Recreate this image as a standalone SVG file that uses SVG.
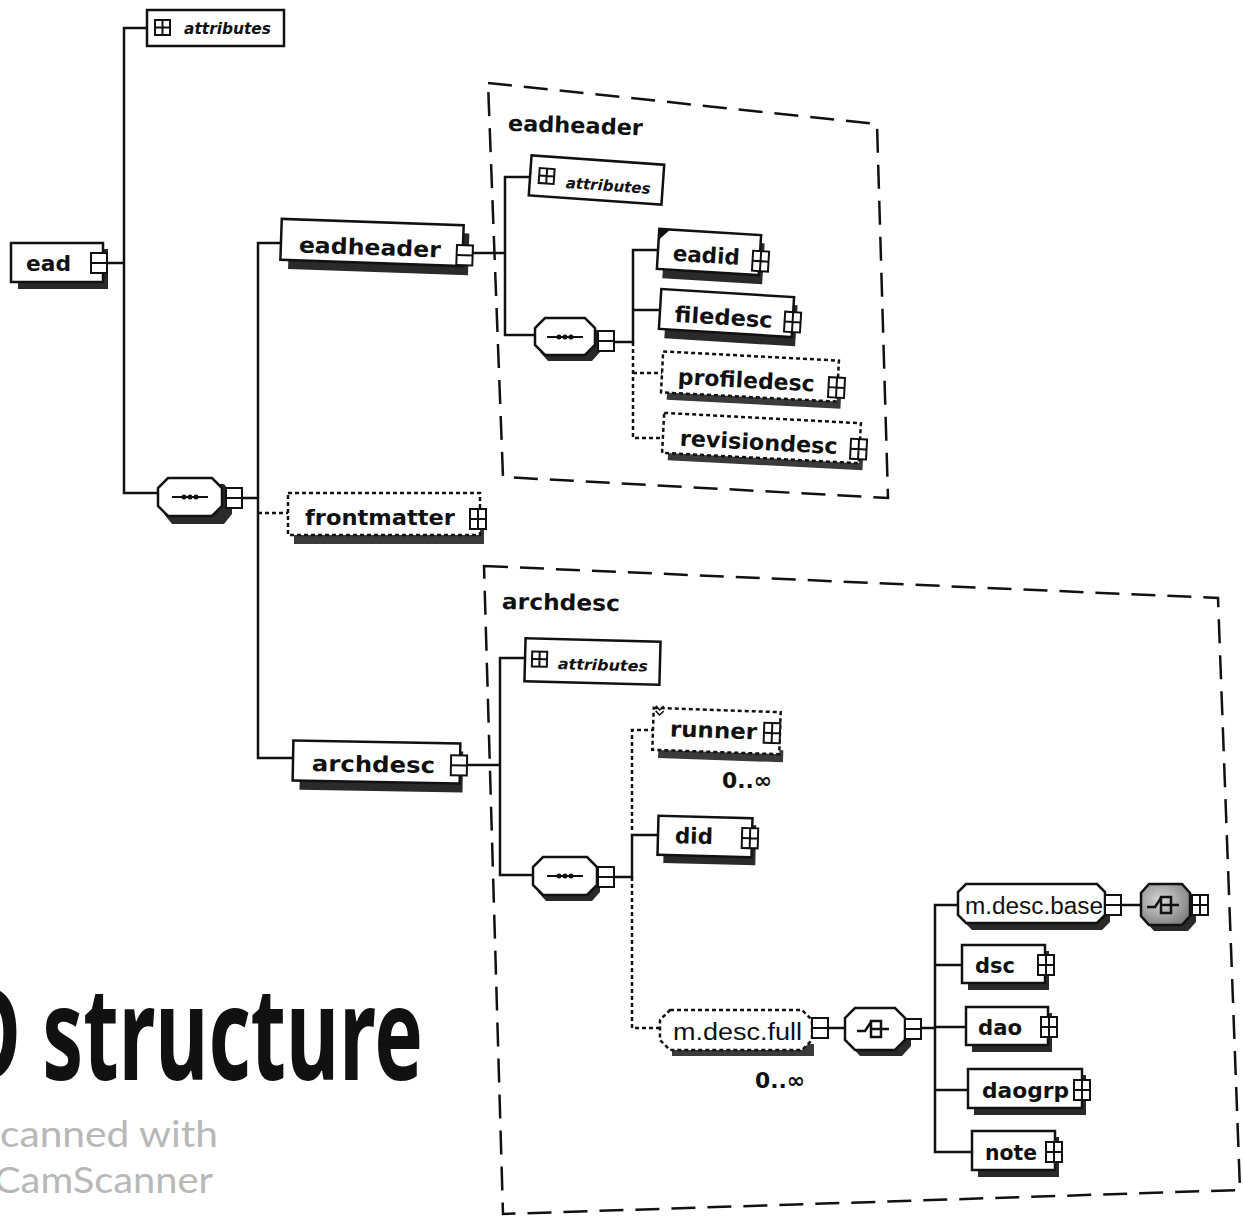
<svg xmlns="http://www.w3.org/2000/svg" width="1243" height="1217" viewBox="0 0 1243 1217">
<style>
.c{fill:none;stroke:#111;stroke-width:2.5}
.d{stroke-dasharray:4 3}
.el{fill:#fff;stroke:#111;stroke-width:2.5}
.opt{fill:#fff;stroke:#111;stroke-width:2.5;stroke-dasharray:4 3}
.at{fill:#fff;stroke:#111;stroke-width:2.5}
.sh{fill:#2a2a2a}
.shd{fill:#3a3a3a}
.region{fill:none;stroke:#111;stroke-width:2.5;stroke-dasharray:24 12}
.t{font-family:"DejaVu Sans",sans-serif;font-weight:bold;font-size:22px;fill:#111}
.ti{font-family:"DejaVu Sans",sans-serif;font-weight:bold;font-style:italic;font-size:15px;fill:#111}
.tr{font-family:"Liberation Sans",Arial,sans-serif;font-size:23px;fill:#111}
.big{font-family:"Noto Sans",sans-serif;font-weight:bold;font-size:130px;fill:#111}
.scan{font-family:"Lato","Open Sans",sans-serif;font-size:37px;fill:#b8b8b8}
</style>
<defs>
<g id="xp"><rect x="-8" y="-10" width="16" height="20" fill="#fff" stroke="#111" stroke-width="2"/><path d="M-8,0H8M0,-10V10" stroke="#111" stroke-width="2"/></g>
<g id="xm"><rect x="-8" y="-10" width="16" height="20" fill="#fff" stroke="#111" stroke-width="2"/><path d="M-8,0H8" stroke="#111" stroke-width="2"/></g>
<g id="aticon"><rect x="0" y="0" width="15" height="15" fill="#fff" stroke="#111" stroke-width="2"/><path d="M0,7.5H15M7.5,0V15" stroke="#111" stroke-width="2"/></g>
<g id="seqsym"><path d="M-18,0H18" stroke="#111" stroke-width="2"/><circle cx="-6" cy="0" r="2.5" fill="#111"/><circle cx="0" cy="0" r="2.5" fill="#111"/><circle cx="6" cy="0" r="2.5" fill="#111"/></g>
<g id="chsym"><path d="M-18,2H-10L-4,-7" fill="none" stroke="#111" stroke-width="2.5"/><rect x="-4" y="-8" width="10" height="16" fill="none" stroke="#111" stroke-width="2.5"/><path d="M-4,0H14" stroke="#111" stroke-width="2.5"/></g>
<radialGradient id="gray" cx="0.4" cy="0.4" r="0.7"><stop offset="0" stop-color="#d8d8d8"/><stop offset="1" stop-color="#7a7a7a"/></radialGradient>
</defs>

<g id="connectors">
<path class="c" d="M147,28H124V493H158"/>
<path class="c" d="M107,263H124"/>
<path class="c" d="M242,498H258"/>
<path class="c" d="M281,243H258V758H293"/>
<path class="c d" d="M258,513H288"/>
<path class="c" d="M473,253H505"/>
<path class="c" d="M530,177H505V335H535"/>
<path class="c" d="M615,342H633V250H658"/>
<path class="c" d="M633,310H660"/>
<path class="c d" d="M633,342V438H663M633,373H662"/>
<path class="c" d="M468,765H500"/>
<path class="c" d="M525,658H500V875H533"/>
<path class="c" d="M615,877H632V835H658"/>
<path class="c d" d="M632,830V730H653"/>
<path class="c d" d="M632,877V1028H660"/>
<path class="c" d="M828,1028H845"/>
<path class="c" d="M921,1028H935"/>
<path class="c" d="M958,905H935V1152H972M935,965H962M935,1027H966M935,1090H968"/>
<path class="c" d="M1121,905H1140"/>
</g>

<g id="region-eadheader">
<polygon class="region" points="488,83 877,124 888,498 503,477"/>
<text class="t" x="508" y="133" font-size="21" textLength="135" lengthAdjust="spacingAndGlyphs" transform="rotate(2 575 125)">eadheader</text>
</g>

<g id="region-archdesc">
<polygon class="region" points="484,566 1218,598 1240,1190 503,1214"/>
<text class="t" x="502" y="610" font-size="21" textLength="118" lengthAdjust="spacingAndGlyphs" transform="rotate(1 560 602)">archdesc</text>
</g>

<g id="n-attr-root">
<rect class="at" x="147" y="10" width="137" height="36"/>
<use href="#aticon" x="155" y="20"/>
<text class="ti" x="184" y="34" textLength="87" lengthAdjust="spacingAndGlyphs">attributes</text>
</g>

<g id="n-ead">
<rect class="sh" x="18" y="249" width="90" height="40"/>
<rect class="el" x="11" y="243" width="92" height="39"/>
<text class="t" x="26" y="271" textLength="45" lengthAdjust="spacingAndGlyphs">ead</text>
<use href="#xm" x="99" y="263"/>
</g>

<g id="n-seq-root">
<polygon class="sh" points="172,484 224,484 232,494 232,514 224,524 172,524 164,514 164,494"/>
<polygon class="el" points="168,478 212,478 222,488 222,506 212,516 168,516 158,506 158,488"/>
<use href="#seqsym" x="190" y="497"/>
<use href="#xm" x="234" y="498"/>
</g>

<g id="n-eadheader" transform="rotate(2 372 243)">
<rect class="sh" x="289" y="230" width="180" height="42"/>
<rect class="el" x="281" y="222" width="182" height="41"/>
<text class="t" x="299" y="255" font-size="24" textLength="142" lengthAdjust="spacingAndGlyphs">eadheader</text>
<use href="#xm" x="465" y="252"/>
</g>

<g id="n-frontmatter">
<rect class="shd" x="294" y="530" width="190" height="14"/>
<rect class="opt" x="288" y="493" width="192" height="42"/>
<text class="t" x="305" y="525" font-size="24" textLength="150" lengthAdjust="spacingAndGlyphs">frontmatter</text>
<use href="#xp" x="478" y="519"/>
</g>

<g id="n-archdesc" transform="rotate(1 376 762)">
<rect class="sh" x="300" y="750" width="163" height="41"/>
<rect class="el" x="293" y="742" width="167" height="40"/>
<text class="t" x="312" y="772" font-size="24" textLength="123" lengthAdjust="spacingAndGlyphs">archdesc</text>
<use href="#xm" x="459" y="764"/>
</g>

<g id="n-attr-eadheader" transform="rotate(4 596 180)">
<rect class="at" x="530" y="160" width="133" height="40"/>
<use href="#aticon" x="539" y="172"/>
<text class="ti" x="566" y="190" textLength="85" lengthAdjust="spacingAndGlyphs">attributes</text>
</g>

<g id="n-seq-eadheader">
<polygon class="sh" points="548,324 592,324 600,334 600,352 592,361 548,361 540,352 540,334"/>
<polygon class="el" points="545,318 585,318 595,328 595,345 585,355 545,355 535,345 535,328"/>
<use href="#seqsym" x="565" y="337"/>
<use href="#xm" x="606" y="341"/>
</g>

<g id="n-eadid" transform="rotate(3.5 709 252)">
<rect class="sh" x="664" y="240" width="100" height="41"/>
<rect class="el" x="658" y="232" width="102" height="40"/>
<polygon points="658,232 669,232 658,243" fill="#111"/>
<text class="t" x="673" y="263" textLength="67" lengthAdjust="spacingAndGlyphs">eadid</text>
<use href="#xp" x="761" y="258"/>
</g>

<g id="n-filedesc" transform="rotate(3.5 726 313)">
<rect class="sh" x="666" y="301" width="131" height="41"/>
<rect class="el" x="660" y="293" width="133" height="40"/>
<text class="t" x="675" y="325" textLength="98" lengthAdjust="spacingAndGlyphs">filedesc</text>
<use href="#xp" x="793" y="318"/>
</g>

<g id="n-profiledesc" transform="rotate(3 750 376)">
<rect class="shd" x="668" y="392" width="174" height="12"/>
<rect class="opt" x="662" y="356" width="176" height="41"/>
<text class="t" x="678" y="388" textLength="137" lengthAdjust="spacingAndGlyphs">profiledesc</text>
<use href="#xp" x="837" y="383"/>
</g>

<g id="n-revisiondesc" transform="rotate(3 761 438)">
<rect class="shd" x="669" y="453" width="195" height="12"/>
<rect class="opt" x="663" y="418" width="197" height="40"/>
<text class="t" x="680" y="450" textLength="158" lengthAdjust="spacingAndGlyphs">revisiondesc</text>
<use href="#xp" x="859" y="444"/>
</g>

<g id="n-attr-archdesc" transform="rotate(1.5 592 661)">
<rect class="at" x="525" y="640" width="135" height="43"/>
<use href="#aticon" x="532" y="653"/>
<text class="ti" x="558" y="670" textLength="90" lengthAdjust="spacingAndGlyphs">attributes</text>
</g>

<g id="n-seq-archdesc">
<polygon class="sh" points="546,863 592,863 600,873 600,892 592,901 546,901 538,892 538,873"/>
<polygon class="el" points="543,857 587,857 597,867 597,885 587,895 543,895 533,885 533,867"/>
<use href="#seqsym" x="565" y="876"/>
<use href="#xm" x="606" y="877"/>
</g>

<g id="n-runner" transform="rotate(2 716 731)">
<rect class="shd" x="659" y="748" width="125" height="12"/>
<rect class="opt" x="653" y="710" width="127" height="42"/>
<path d="M655,708l4,4l4,-4M655,713l4,4l4,-4" fill="none" stroke="#111" stroke-width="1.5"/>
<text class="t" x="670" y="738" textLength="87" lengthAdjust="spacingAndGlyphs">runner</text>
<use href="#xp" x="772" y="731"/>
</g>
<text class="t" x="722" y="788" font-size="20" textLength="50" lengthAdjust="spacingAndGlyphs">0..∞</text>

<g id="n-did" transform="rotate(1.5 705 836)">
<rect class="sh" x="664" y="824" width="92" height="40"/>
<rect class="el" x="658" y="817" width="94" height="39"/>
<text class="t" x="675" y="844" textLength="38" lengthAdjust="spacingAndGlyphs">did</text>
<use href="#xp" x="750" y="837"/>
</g>

<g id="n-mdescfull">
<rect class="shd" x="672" y="1044" width="142" height="12"/>
<polygon class="opt" points="670,1010 802,1010 812,1020 812,1040 802,1050 670,1050 660,1040 660,1020"/>
<text class="tr" x="673" y="1040" textLength="129" lengthAdjust="spacingAndGlyphs">m.desc.full</text>
<use href="#xm" x="820" y="1028"/>
</g>
<text class="t" x="755" y="1088" font-size="20" textLength="50" lengthAdjust="spacingAndGlyphs">0..∞</text>

<g id="n-choice-full">
<polygon class="sh" points="860,1014 902,1014 911,1024 911,1046 902,1056 860,1056 851,1046 851,1024"/>
<polygon class="el" points="855,1008 895,1008 905,1018 905,1040 895,1050 855,1050 845,1040 845,1018"/>
<use href="#chsym" x="875" y="1029"/>
<use href="#xm" x="913" y="1029"/>
</g>

<g id="n-mdescbase">
<polygon class="sh" points="972,890 1102,890 1110,898 1110,922 1102,930 972,930 964,922 964,898"/>
<polygon class="el" points="966,884 1097,884 1105,892 1105,915 1097,923 966,923 958,915 958,892"/>
<text class="tr" x="965" y="914" textLength="138" lengthAdjust="spacingAndGlyphs">m.desc.base</text>
<use href="#xm" x="1113" y="905"/>
</g>

<g id="n-choice-base">
<polygon class="sh" points="1154,890 1188,890 1196,899 1196,922 1188,931 1154,931 1146,922 1146,899"/>
<polygon points="1149,884 1182,884 1190,893 1190,916 1182,925 1149,925 1141,916 1141,893" fill="url(#gray)" stroke="#111" stroke-width="2.5"/>
<use href="#chsym" x="1165" y="905"/>
<use href="#xp" x="1200" y="905"/>
</g>

<g id="n-dsc">
<rect class="sh" x="968" y="951" width="81" height="39"/>
<rect class="el" x="962" y="945" width="83" height="38"/>
<text class="t" x="975" y="973" textLength="40" lengthAdjust="spacingAndGlyphs">dsc</text>
<use href="#xp" x="1046" y="965"/>
</g>

<g id="n-dao">
<rect class="sh" x="972" y="1013" width="80" height="39"/>
<rect class="el" x="966" y="1007" width="82" height="38"/>
<text class="t" x="978" y="1035" textLength="44" lengthAdjust="spacingAndGlyphs">dao</text>
<use href="#xp" x="1049" y="1027"/>
</g>

<g id="n-daogrp">
<rect class="sh" x="974" y="1075" width="112" height="40"/>
<rect class="el" x="968" y="1069" width="114" height="39"/>
<text class="t" x="982" y="1098" textLength="87" lengthAdjust="spacingAndGlyphs">daogrp</text>
<use href="#xp" x="1082" y="1090"/>
</g>

<g id="n-note">
<rect class="sh" x="978" y="1137" width="81" height="40"/>
<rect class="el" x="972" y="1131" width="83" height="39"/>
<text class="t" x="985" y="1160" textLength="52" lengthAdjust="spacingAndGlyphs">note</text>
<use href="#xp" x="1054" y="1152"/>
</g>

<g id="caption">
<text class="big" transform="translate(-39,1080) scale(0.7,1)" x="0" y="0" textLength="660" lengthAdjust="spacingAndGlyphs">D structure</text>
<text class="scan" x="0" y="1147" textLength="218" lengthAdjust="spacingAndGlyphs">canned with</text>
<text class="scan" x="-6" y="1193" textLength="219" lengthAdjust="spacingAndGlyphs">CamScanner</text>
</g>
</svg>
